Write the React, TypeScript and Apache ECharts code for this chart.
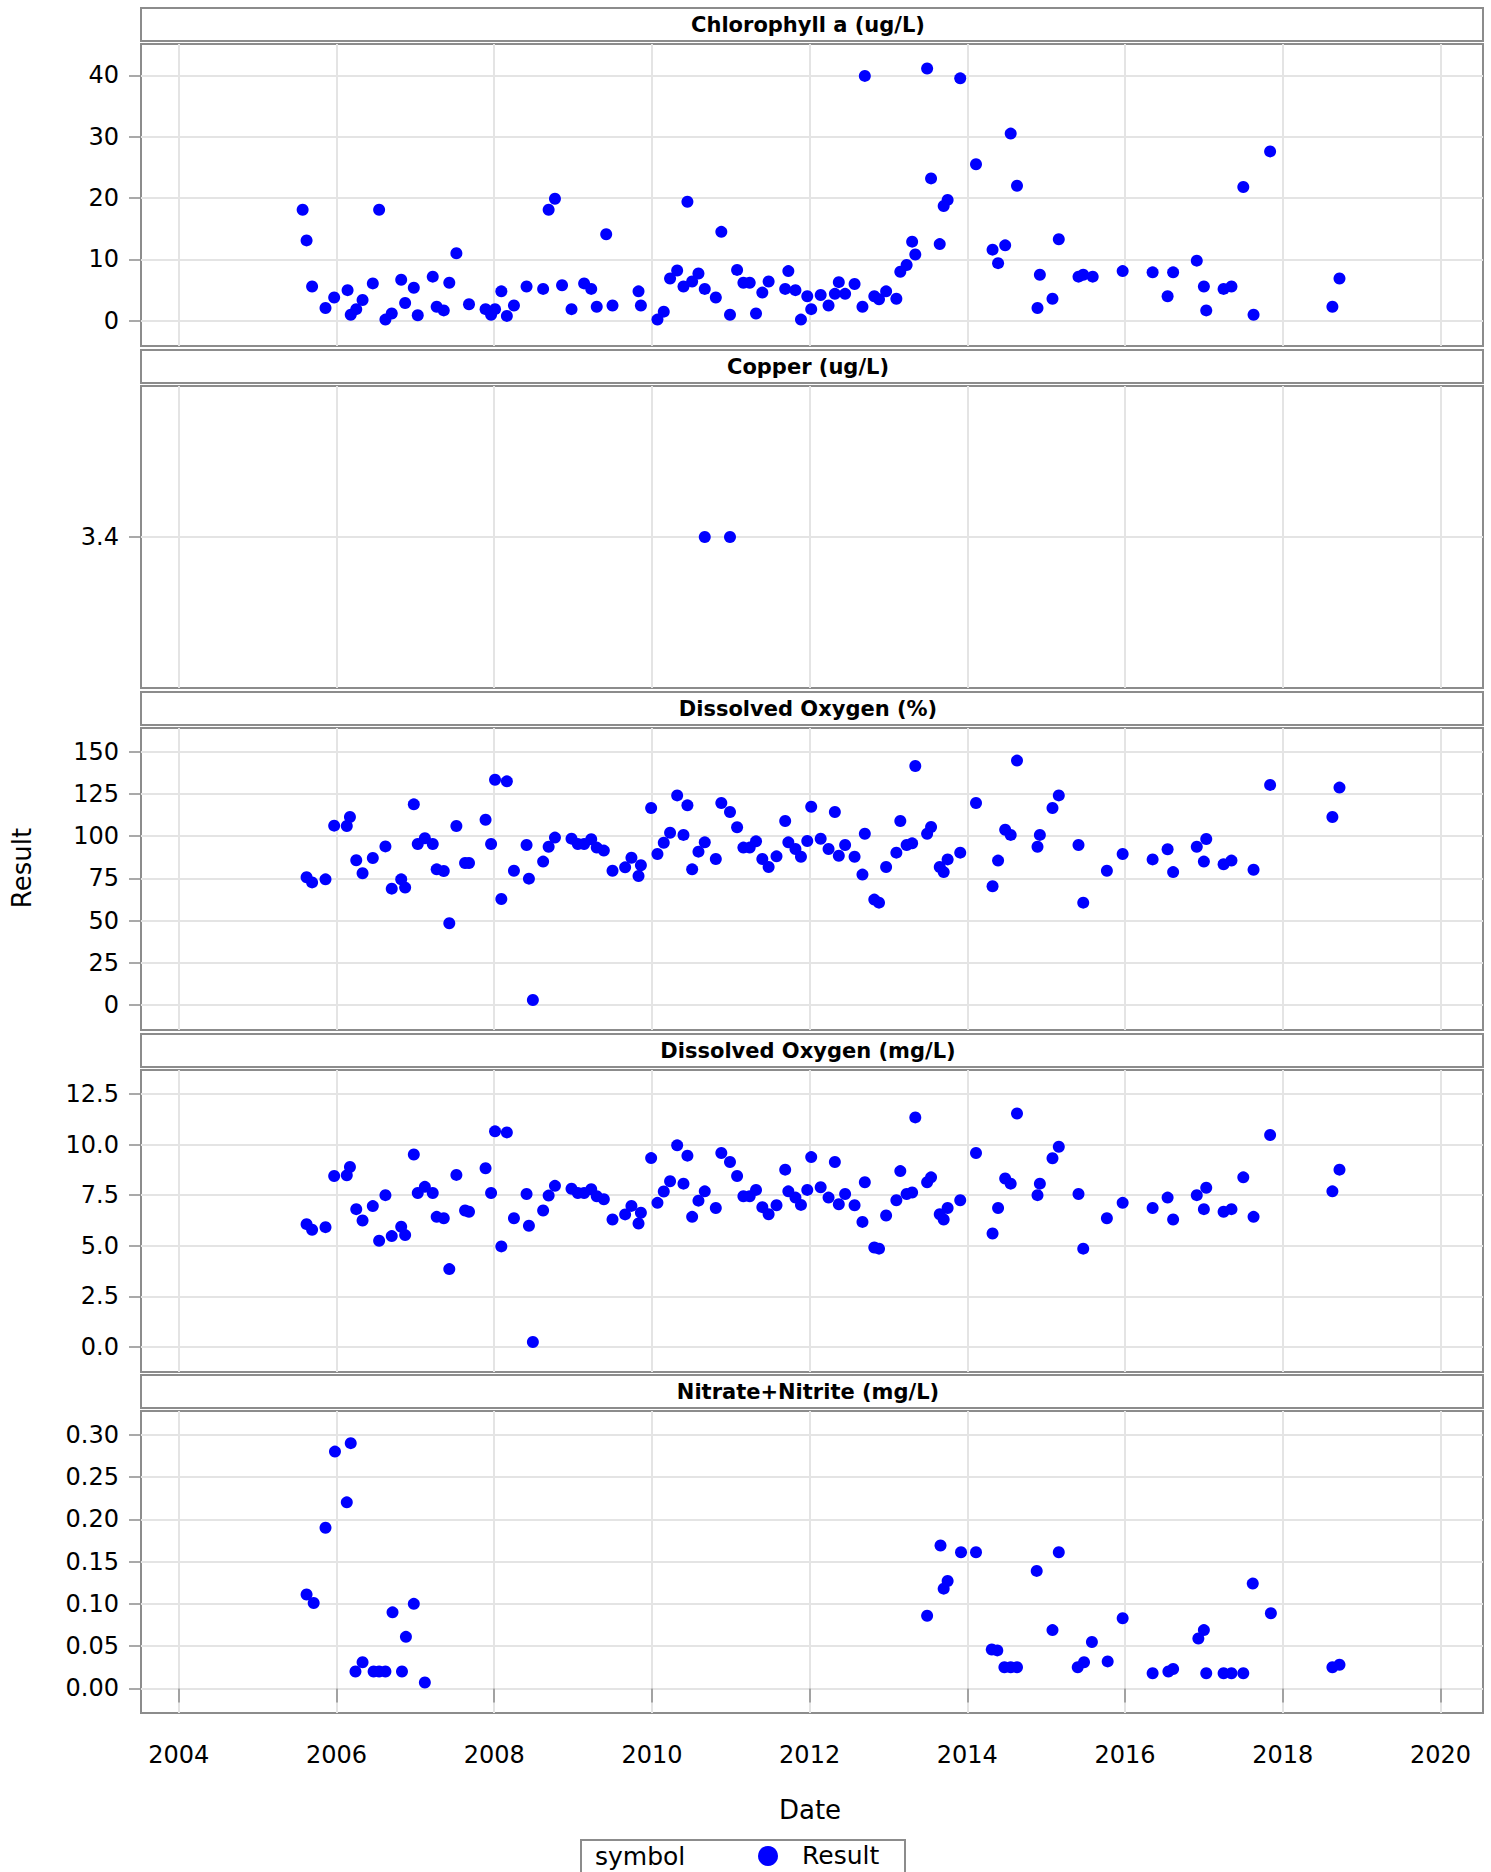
import React, { useEffect, useRef } from "react";
import * as echarts from "echarts";

// ---------------- DATA ----------------
const xTickValues = [2004, 2006, 2008, 2010, 2012, 2014, 2016, 2018, 2020];

const chlDates = [
  2005.57, 2005.62, 2005.69, 2005.86, 2005.97, 2006.14, 2006.18, 2006.25, 2006.33, 2006.46,
  2006.54, 2006.62, 2006.70, 2006.82, 2006.87, 2006.98, 2007.03, 2007.22, 2007.27, 2007.36,
  2007.43, 2007.52, 2007.68, 2007.89, 2007.96, 2008.01, 2008.09, 2008.16, 2008.25, 2008.41,
  2008.62, 2008.69, 2008.77, 2008.86, 2008.98, 2009.14, 2009.23, 2009.30, 2009.42, 2009.50,
  2009.83, 2009.86, 2010.07, 2010.15, 2010.23, 2010.32, 2010.40, 2010.45, 2010.51, 2010.59,
  2010.67, 2010.81, 2010.88, 2010.99, 2011.08, 2011.16, 2011.24, 2011.32, 2011.40, 2011.48,
  2011.69, 2011.73, 2011.82, 2011.89, 2011.97, 2012.02, 2012.14, 2012.24, 2012.32, 2012.37,
  2012.45, 2012.57, 2012.67, 2012.70, 2012.82, 2012.88, 2012.97, 2013.10, 2013.15, 2013.23,
  2013.30, 2013.34, 2013.49, 2013.54, 2013.65, 2013.70, 2013.75, 2013.91, 2014.11, 2014.32,
  2014.39, 2014.48, 2014.55, 2014.63, 2014.89, 2014.92, 2015.08, 2015.16, 2015.41, 2015.47,
  2015.59, 2015.97, 2016.35, 2016.54, 2016.61, 2016.91, 2017.00, 2017.03, 2017.25, 2017.35,
  2017.50, 2017.63, 2017.84, 2018.63, 2018.72,
];
const chlValues = [
  18.1, 13.1, 5.6, 2.1, 3.8, 5.0, 1.0, 1.9, 3.4, 6.1,
  18.1, 0.2, 1.2, 6.7, 2.9, 5.4, 0.9, 7.2, 2.3, 1.7,
  6.2, 11.0, 2.7, 1.9, 1.0, 1.9, 4.8, 0.8, 2.5, 5.6,
  5.2, 18.1, 19.9, 5.8, 1.9, 6.1, 5.2, 2.3, 14.1, 2.5,
  4.8, 2.5, 0.2, 1.5, 6.9, 8.2, 5.6, 19.4, 6.4, 7.7,
  5.2, 3.8, 14.5, 1.0, 8.3, 6.2, 6.2, 1.2, 4.6, 6.4,
  5.2, 8.1, 5.0, 0.2, 4.0, 1.9, 4.2, 2.5, 4.4, 6.3,
  4.4, 6.0, 2.3, 39.9, 4.0, 3.5, 4.8, 3.6, 8.0, 9.1,
  12.9, 10.8, 41.1, 23.2, 12.5, 18.7, 19.7, 39.5, 25.5, 11.6,
  9.4, 12.3, 30.5, 22.0, 2.1, 7.5, 3.6, 13.3, 7.2, 7.5,
  7.2, 8.1, 7.9, 4.0, 7.9, 9.8, 5.6, 1.7, 5.2, 5.6,
  21.8, 1.0, 27.6, 2.3, 6.9,
];

const copperDates = [2010.67, 2010.99];
const copperValues = [3.4, 3.4];

const doPctDates = [
  2005.62, 2005.69, 2005.86, 2005.97, 2006.13, 2006.17, 2006.25, 2006.33, 2006.46, 2006.62,
  2006.70, 2006.82, 2006.87, 2006.98, 2007.03, 2007.12, 2007.22, 2007.27, 2007.36, 2007.43,
  2007.52, 2007.63, 2007.68, 2007.89, 2007.96, 2008.01, 2008.09, 2008.16, 2008.25, 2008.41,
  2008.44, 2008.49, 2008.62, 2008.69, 2008.77, 2008.98, 2009.06, 2009.14, 2009.23, 2009.30,
  2009.39, 2009.50, 2009.66, 2009.74, 2009.83, 2009.86, 2009.99, 2010.07, 2010.15, 2010.23,
  2010.32, 2010.40, 2010.45, 2010.51, 2010.59, 2010.67, 2010.81, 2010.88, 2010.99, 2011.08,
  2011.16, 2011.24, 2011.32, 2011.40, 2011.48, 2011.58, 2011.69, 2011.73, 2011.82, 2011.89,
  2011.97, 2012.02, 2012.14, 2012.24, 2012.32, 2012.37, 2012.45, 2012.57, 2012.67, 2012.70,
  2012.82, 2012.88, 2012.97, 2013.10, 2013.15, 2013.23, 2013.30, 2013.34, 2013.49, 2013.54,
  2013.65, 2013.70, 2013.75, 2013.91, 2014.11, 2014.32, 2014.39, 2014.48, 2014.55, 2014.63,
  2014.89, 2014.92, 2015.08, 2015.16, 2015.41, 2015.47, 2015.77, 2015.97, 2016.35, 2016.54,
  2016.61, 2016.91, 2017.00, 2017.03, 2017.25, 2017.35, 2017.63, 2017.84, 2018.63, 2018.72,
];
const doPctValues = [
  75.6, 72.6, 74.4, 106.2, 106.0, 111.3, 85.7, 78.0, 87.0, 93.9,
  68.9, 74.4, 69.5, 118.8, 95.3, 98.7, 95.3, 80.3, 79.3, 48.4,
  106.0, 84.1, 84.1, 109.7, 95.3, 133.4, 62.8, 132.4, 79.5, 94.7,
  74.8, 3.0, 84.9, 93.7, 99.1, 98.5, 95.3, 95.3, 98.1, 93.2,
  91.4, 79.5, 81.5, 87.2, 76.4, 82.7, 116.6, 89.4, 96.1, 102.0,
  124.1, 100.7, 118.2, 80.3, 90.8, 96.3, 86.4, 119.6, 114.3, 105.2,
  93.2, 93.2, 96.9, 86.4, 81.7, 88.0, 108.9, 96.3, 92.4, 87.8,
  97.1, 117.4, 98.4, 92.4, 114.3, 88.4, 94.7, 87.8, 77.2, 101.4,
  62.4, 60.6, 81.7, 90.2, 108.9, 94.7, 95.7, 141.5, 101.4, 105.4,
  81.7, 78.7, 86.2, 90.2, 119.6, 70.3, 85.5, 103.8, 100.7, 144.7,
  93.7, 100.7, 116.6, 124.1, 94.7, 60.6, 79.5, 89.4, 86.2, 92.2,
  78.7, 93.7, 84.9, 98.3, 83.3, 85.5, 80.1, 130.3, 111.3, 128.7,
];

const doMgDates = [
  2005.62, 2005.69, 2005.86, 2005.97, 2006.13, 2006.17, 2006.25, 2006.33, 2006.46, 2006.54,
  2006.62, 2006.70, 2006.82, 2006.87, 2006.98, 2007.03, 2007.12, 2007.22, 2007.27, 2007.36,
  2007.43, 2007.52, 2007.63, 2007.68, 2007.89, 2007.96, 2008.01, 2008.09, 2008.16, 2008.25,
  2008.41, 2008.44, 2008.49, 2008.62, 2008.69, 2008.77, 2008.98, 2009.06, 2009.14, 2009.23,
  2009.30, 2009.39, 2009.50, 2009.66, 2009.74, 2009.83, 2009.86, 2009.99, 2010.07, 2010.15,
  2010.23, 2010.32, 2010.40, 2010.45, 2010.51, 2010.59, 2010.67, 2010.81, 2010.88, 2010.99,
  2011.08, 2011.16, 2011.24, 2011.32, 2011.40, 2011.48, 2011.58, 2011.69, 2011.73, 2011.82,
  2011.89, 2011.97, 2012.02, 2012.14, 2012.24, 2012.32, 2012.37, 2012.45, 2012.57, 2012.67,
  2012.70, 2012.82, 2012.88, 2012.97, 2013.10, 2013.15, 2013.23, 2013.30, 2013.34, 2013.49,
  2013.54, 2013.65, 2013.70, 2013.75, 2013.91, 2014.11, 2014.32, 2014.39, 2014.48, 2014.55,
  2014.63, 2014.89, 2014.92, 2015.08, 2015.16, 2015.41, 2015.47, 2015.77, 2015.97, 2016.35,
  2016.54, 2016.61, 2016.91, 2017.00, 2017.03, 2017.25, 2017.35, 2017.50, 2017.63, 2017.84,
  2018.63, 2018.72,
];
const doMgValues = [
  6.07, 5.79, 5.92, 8.45, 8.48, 8.89, 6.81, 6.25, 6.96, 5.25,
  7.50, 5.48, 5.94, 5.53, 9.51, 7.61, 7.91, 7.61, 6.43, 6.36,
  3.85, 8.50, 6.74, 6.68, 8.83, 7.61, 10.65, 4.97, 10.60, 6.36,
  7.56, 5.99, 0.25, 6.74, 7.48, 7.96, 7.82, 7.61, 7.61, 7.79,
  7.45, 7.30, 6.30, 6.55, 6.97, 6.10, 6.63, 9.33, 7.12, 7.68,
  8.19, 9.96, 8.07, 9.45, 6.43, 7.23, 7.69, 6.87, 9.58, 9.14,
  8.45, 7.45, 7.45, 7.76, 6.91, 6.56, 7.00, 8.76, 7.69, 7.38,
  7.02, 7.76, 9.38, 7.89, 7.38, 9.14, 7.05, 7.56, 7.00, 6.18,
  8.14, 4.92, 4.86, 6.50, 7.25, 8.69, 7.56, 7.63, 11.34, 8.14,
  8.38, 6.56, 6.30, 6.87, 7.25, 9.58, 5.61, 6.87, 8.32, 8.07,
  11.53, 7.50, 8.07, 9.32, 9.89, 7.56, 4.86, 6.36, 7.12, 6.87,
  7.38, 6.30, 7.50, 6.81, 7.87, 6.68, 6.81, 8.38, 6.43, 10.47,
  7.69, 8.76,
];

const nitrateDates = [
  2005.62, 2005.71, 2005.86, 2005.98, 2006.13, 2006.18, 2006.24, 2006.33, 2006.47, 2006.54,
  2006.62, 2006.71, 2006.83, 2006.88, 2006.98, 2007.12,
  2013.49, 2013.66, 2013.70, 2013.75, 2013.92, 2014.11, 2014.31, 2014.38, 2014.47, 2014.55,
  2014.63, 2014.88, 2015.08, 2015.16, 2015.40, 2015.48, 2015.58, 2015.78, 2015.97, 2016.35,
  2016.55, 2016.61, 2016.93, 2017.00, 2017.03, 2017.25, 2017.35, 2017.50, 2017.62, 2017.85,
  2018.63, 2018.72,
];
const nitrateValues = [
  0.111, 0.101, 0.19, 0.28, 0.22, 0.29, 0.02, 0.031, 0.02, 0.02,
  0.02, 0.09, 0.02, 0.061, 0.1, 0.007,
  0.086, 0.169, 0.118, 0.127, 0.161, 0.161, 0.046, 0.045, 0.025, 0.025,
  0.025, 0.139, 0.069, 0.161, 0.025, 0.031, 0.055, 0.032, 0.083, 0.018,
  0.02, 0.023, 0.059, 0.069, 0.018, 0.018, 0.018, 0.018, 0.124, 0.089,
  0.025, 0.028,
];

const chlTicks = [0, 10, 20, 30, 40];
const copperTicks = [3.4];
const doPctTicks = [0, 25, 50, 75, 100, 125, 150];
const doMgTicks = [0, 2.5, 5, 7.5, 10, 12.5];
const nitrateTicks = [0, 0.05, 0.1, 0.15, 0.2, 0.25, 0.3];

const panelTitles = [
  "Chlorophyll a (ug/L)",
  "Copper (ug/L)",
  "Dissolved Oxygen (%)",
  "Dissolved Oxygen (mg/L)",
  "Nitrate+Nitrite (mg/L)",
];

// ---------------- LAYOUT ----------------
const FONT = "DejaVu Sans";
const BORDER = "#8c8c8c";
const GRIDLINE = "#e4e4e4";
const PLOT_LEFT = 141;
const PLOT_RIGHT = 1483;
const PLOT_H = 302;
const plotTops = [44, 386, 728, 1070, 1411];
const X_MIN = 2003.52;
const X_MAX = 2020.54;

const panels = [
  { dates: chlDates, values: chlValues, ticks: chlTicks, min: -4.1, max: 45.1, digits: 0 },
  { dates: copperDates, values: copperValues, ticks: copperTicks, min: 3.3, max: 3.5, digits: 1 },
  { dates: doPctDates, values: doPctValues, ticks: doPctTicks, min: -14.8, max: 164, digits: 0 },
  { dates: doMgDates, values: doMgValues, ticks: doMgTicks, min: -1.23, max: 13.68, digits: 1 },
  { dates: nitrateDates, values: nitrateValues, ticks: nitrateTicks, min: -0.029, max: 0.328, digits: 2 },
];

export default function App() {
  const ref = useRef<HTMLDivElement>(null);

  useEffect(() => {
    if (!ref.current) return;
    const chart = echarts.init(ref.current, null, { renderer: "svg" });
    const last = panels.length - 1;

    const grids = panels.map((_, i) => ({
      left: PLOT_LEFT,
      width: PLOT_RIGHT - PLOT_LEFT,
      top: plotTops[i],
      height: PLOT_H,
      show: true,
      borderColor: BORDER,
      borderWidth: 2,
      backgroundColor: "#ffffff",
      containLabel: false,
      outerBoundsMode: "none",
    }));

    const xAxes = panels.map((_, i) => ({
      type: "value",
      gridIndex: i,
      min: X_MIN,
      max: X_MAX,
      axisLine: { show: false },
      axisTick: {
        show: i === last,
        length: 14,
        customValues: xTickValues,
        lineStyle: { color: BORDER, width: 1.5 },
      },
      axisLabel: {
        show: i === last,
        customValues: xTickValues,
        margin: 30,
        fontSize: 24,
        fontFamily: FONT,
        color: "#000",
        formatter: (v: number) => String(Math.round(v)),
      },
      splitLine: { show: true, lineStyle: { color: GRIDLINE, width: 2 } },
    }));

    const yAxes = panels.map((p, i) => ({
      type: "value",
      gridIndex: i,
      min: p.min,
      max: p.max,
      axisLine: { show: false },
      axisTick: {
        show: true,
        length: 12,
        customValues: p.ticks,
        lineStyle: { color: BORDER, width: 1.5 },
      },
      axisLabel: {
        customValues: p.ticks,
        margin: 22,
        fontSize: 24,
        fontFamily: FONT,
        color: "#000",
        formatter: (v: number) => v.toFixed(p.digits),
      },
      splitLine: { show: true, lineStyle: { color: GRIDLINE, width: 2 } },
    }));

    const series = panels.map((p, i) => ({
      type: "scatter",
      xAxisIndex: i,
      yAxisIndex: i,
      symbol: "circle",
      symbolSize: 12,
      itemStyle: { color: "#0000ff", opacity: 1 },
      data: p.dates.map((d, k) => [d, p.values[k]]),
      z: 5,
    }));

    const graphics: any[] = [];
    plotTops.forEach((top, i) => {
      const sTop = top - 36;
      graphics.push({
        type: "rect",
        shape: { x: PLOT_LEFT, y: sTop, width: PLOT_RIGHT - PLOT_LEFT, height: 33 },
        style: { fill: "#ffffff", stroke: BORDER, lineWidth: 2 },
      });
      graphics.push({
        type: "text",
        x: (PLOT_LEFT + PLOT_RIGHT) / 2 - 4,
        y: sTop + 17,
        style: {
          text: panelTitles[i],
          font: `bold 21px "${FONT}"`,
          fill: "#000",
          align: "center",
          verticalAlign: "middle",
        },
      });
    });
    graphics.push({
      type: "text",
      x: 22,
      y: 868,
      rotation: Math.PI / 2,
      style: {
        text: "Result",
        font: `26px "${FONT}"`,
        fill: "#000",
        align: "center",
        verticalAlign: "middle",
      },
    });
    graphics.push({
      type: "text",
      x: 810,
      y: 1810,
      style: {
        text: "Date",
        font: `26px "${FONT}"`,
        fill: "#000",
        align: "center",
        verticalAlign: "middle",
      },
    });
    // legend box
    graphics.push({
      type: "rect",
      shape: { x: 581, y: 1840, width: 324, height: 50 },
      style: { fill: "#ffffff", stroke: BORDER, lineWidth: 2 },
    });
    graphics.push({
      type: "text",
      x: 595,
      y: 1856,
      style: {
        text: "symbol",
        font: `25px "${FONT}"`,
        fill: "#000",
        align: "left",
        verticalAlign: "middle",
      },
    });
    graphics.push({
      type: "circle",
      shape: { cx: 768, cy: 1856, r: 10 },
      style: { fill: "#0000ff" },
    });
    graphics.push({
      type: "text",
      x: 802,
      y: 1855,
      style: {
        text: "Result",
        font: `25px "${FONT}"`,
        fill: "#000",
        align: "left",
        verticalAlign: "middle",
      },
    });

    chart.setOption({
      animation: false,
      backgroundColor: "#ffffff",
      grid: grids,
      xAxis: xAxes,
      yAxis: yAxes,
      series,
      graphic: graphics,
    } as any);

    return () => chart.dispose();
  }, []);

  return (
    <div
      ref={ref}
      style={{ position: "absolute", left: 0, top: 0, width: 1491, height: 1872 }}
    />
  );
}
